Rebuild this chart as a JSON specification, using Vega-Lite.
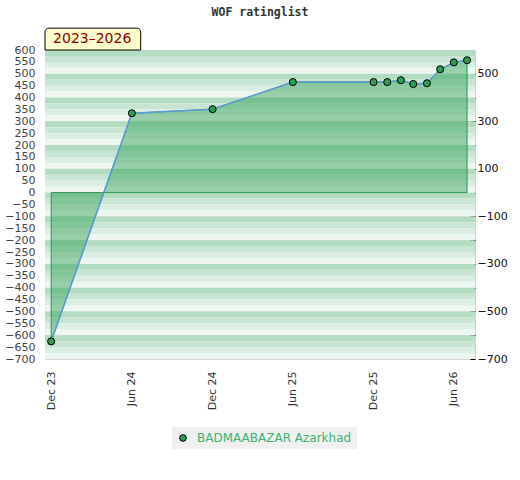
{
  "$schema": "https://vega.github.io/schema/vega-lite/v6.json",
  "width": 430,
  "height": 309,
  "autosize": "none",
  "padding": {"left": 45, "top": 50, "right": 45, "bottom": 121},
  "background": "white",
  "title": {
    "text": "WOF ratinglist",
    "font": "DejaVu Sans Mono",
    "fontSize": 11.5,
    "fontWeight": "bold",
    "color": "#333333",
    "anchor": "middle",
    "frame": "group",
    "offset": 9
  },
  "datasets": {
    "ratings": [
      {"date": "2023-12-01", "rating": -626, "name": "BADMAABAZAR Azarkhad"},
      {"date": "2024-06-01", "rating": 334, "name": "BADMAABAZAR Azarkhad"},
      {"date": "2024-12-01", "rating": 351, "name": "BADMAABAZAR Azarkhad"},
      {"date": "2025-06-01", "rating": 465, "name": "BADMAABAZAR Azarkhad"},
      {"date": "2025-12-01", "rating": 465, "name": "BADMAABAZAR Azarkhad"},
      {"date": "2026-01-01", "rating": 465, "name": "BADMAABAZAR Azarkhad"},
      {"date": "2026-02-01", "rating": 473, "name": "BADMAABAZAR Azarkhad"},
      {"date": "2026-03-01", "rating": 457, "name": "BADMAABAZAR Azarkhad"},
      {"date": "2026-04-01", "rating": 460, "name": "BADMAABAZAR Azarkhad"},
      {"date": "2026-05-01", "rating": 519, "name": "BADMAABAZAR Azarkhad"},
      {"date": "2026-06-01", "rating": 548, "name": "BADMAABAZAR Azarkhad"},
      {"date": "2026-07-01", "rating": 557, "name": "BADMAABAZAR Azarkhad"}
    ],
    "bands": [
      {"lo": 575, "hi": 600, "shade": "a"}, {"lo": 550, "hi": 575, "shade": "b"}, {"lo": 525, "hi": 550, "shade": "c"}, {"lo": 500, "hi": 525, "shade": "d"},
      {"lo": 475, "hi": 500, "shade": "a"}, {"lo": 450, "hi": 475, "shade": "b"}, {"lo": 425, "hi": 450, "shade": "c"}, {"lo": 400, "hi": 425, "shade": "d"},
      {"lo": 375, "hi": 400, "shade": "a"}, {"lo": 350, "hi": 375, "shade": "b"}, {"lo": 325, "hi": 350, "shade": "c"}, {"lo": 300, "hi": 325, "shade": "d"},
      {"lo": 275, "hi": 300, "shade": "a"}, {"lo": 250, "hi": 275, "shade": "b"}, {"lo": 225, "hi": 250, "shade": "c"}, {"lo": 200, "hi": 225, "shade": "d"},
      {"lo": 175, "hi": 200, "shade": "a"}, {"lo": 150, "hi": 175, "shade": "b"}, {"lo": 125, "hi": 150, "shade": "c"}, {"lo": 100, "hi": 125, "shade": "d"},
      {"lo": 75, "hi": 100, "shade": "a"}, {"lo": 50, "hi": 75, "shade": "b"}, {"lo": 25, "hi": 50, "shade": "c"}, {"lo": 0, "hi": 25, "shade": "d"},
      {"lo": -25, "hi": 0, "shade": "a"}, {"lo": -50, "hi": -25, "shade": "b"}, {"lo": -75, "hi": -50, "shade": "c"}, {"lo": -100, "hi": -75, "shade": "d"},
      {"lo": -125, "hi": -100, "shade": "a"}, {"lo": -150, "hi": -125, "shade": "b"}, {"lo": -175, "hi": -150, "shade": "c"}, {"lo": -200, "hi": -175, "shade": "d"},
      {"lo": -225, "hi": -200, "shade": "a"}, {"lo": -250, "hi": -225, "shade": "b"}, {"lo": -275, "hi": -250, "shade": "c"}, {"lo": -300, "hi": -275, "shade": "d"},
      {"lo": -325, "hi": -300, "shade": "a"}, {"lo": -350, "hi": -325, "shade": "b"}, {"lo": -375, "hi": -350, "shade": "c"}, {"lo": -400, "hi": -375, "shade": "d"},
      {"lo": -425, "hi": -400, "shade": "a"}, {"lo": -450, "hi": -425, "shade": "b"}, {"lo": -475, "hi": -450, "shade": "c"}, {"lo": -500, "hi": -475, "shade": "d"},
      {"lo": -525, "hi": -500, "shade": "a"}, {"lo": -550, "hi": -525, "shade": "b"}, {"lo": -575, "hi": -550, "shade": "c"}, {"lo": -600, "hi": -575, "shade": "d"},
      {"lo": -625, "hi": -600, "shade": "a"}, {"lo": -650, "hi": -625, "shade": "b"}, {"lo": -675, "hi": -650, "shade": "c"}, {"lo": -700, "hi": -675, "shade": "d"}
    ]
  },
  "resolve": {"scale": {"color": "independent"}, "axis": {"y": "independent"}},
  "layer": [
    {
      "data": {"name": "bands"},
      "mark": {"type": "rect", "strokeWidth": 0},
      "encoding": {
        "y": {
          "field": "lo",
          "type": "quantitative",
          "scale": {"domain": [-700, 600], "nice": false, "zero": false},
          "axis": {
            "orient": "left",
            "title": null,
            "values": [600, 550, 500, 450, 400, 350, 300, 250, 200, 150, 100, 50, 0, -50, -100, -150, -200, -250, -300, -350, -400, -450, -500, -550, -600, -650, -700],
            "ticks": false,
            "domain": false,
            "grid": false,
            "labelFont": "DejaVu Sans",
            "labelFontSize": 11,
            "labelColor": "#444444",
            "labelPadding": 10
          }
        },
        "y2": {"field": "hi"},
        "color": {
          "field": "shade",
          "type": "nominal",
          "scale": {"domain": ["a", "b", "c", "d"], "range": ["#b3dcc2", "#c7e5d2", "#dbeee3", "#eef6f1"]},
          "legend": null
        }
      }
    },
    {
      "data": {"name": "ratings"},
      "mark": {"type": "area", "fill": "#2e9e55", "fillOpacity": 0.45, "stroke": "#2e9650", "strokeWidth": 1},
      "encoding": {
        "x": {
          "field": "date",
          "type": "temporal",
          "scale": {"type": "utc", "domain": [1700179200000, 1784419200000]},
          "axis": {
            "title": null,
            "values": [1701388800000, 1717200000000, 1733011200000, 1748736000000, 1764547200000, 1780272000000],
            "labelExpr": "utcFormat(datum.value, '%b %y')",
            "labelAngle": -90,
            "labelOverlap": false,
            "ticks": false,
            "domain": false,
            "grid": false,
            "labelFont": "DejaVu Sans",
            "labelFontSize": 11,
            "labelColor": "#333333",
            "labelPadding": 12
          }
        },
        "y": {"field": "rating", "type": "quantitative", "scale": {"domain": [-700, 600], "nice": false, "zero": false}, "axis": null},
        "y2": {"datum": 0}
      }
    },
    {
      "data": {"name": "ratings"},
      "mark": {"type": "line", "color": "#5b9bd5", "strokeWidth": 1.5},
      "encoding": {
        "x": {"field": "date", "type": "temporal", "scale": {"type": "utc", "domain": [1700179200000, 1784419200000]}},
        "y": {"field": "rating", "type": "quantitative", "scale": {"domain": [-700, 600], "nice": false, "zero": false}, "axis": null}
      }
    },
    {
      "data": {"name": "ratings"},
      "mark": {"type": "point", "filled": true, "size": 50, "stroke": "black", "strokeWidth": 1, "opacity": 1},
      "encoding": {
        "x": {"field": "date", "type": "temporal", "scale": {"type": "utc", "domain": [1700179200000, 1784419200000]}},
        "y": {
          "field": "rating",
          "type": "quantitative",
          "scale": {"domain": [-700, 600], "nice": false, "zero": false},
          "axis": {
            "orient": "right",
            "title": null,
            "values": [500, 400, 300, 200, 100, 0, -100, -200, -300, -400, -500, -600, -700],
            "labelExpr": "(datum.value + 700) % 200 == 0 ? datum.label : ''",
            "ticks": true,
            "tickSize": -5,
            "tickColor": "black",
            "domain": false,
            "grid": true,
            "gridColor": "#d6d6d6",
            "gridOpacity": 1,
            "labelFont": "DejaVu Sans",
            "labelFontSize": 11,
            "labelColor": "#111111",
            "labelPadding": 7
          }
        },
        "color": {
          "field": "name",
          "type": "nominal",
          "scale": {"range": ["#2e9e55"]},
          "legend": {
            "title": null,
            "orient": "none",
            "legendX": 127,
            "legendY": 377,
            "fillColor": "#f0f0f0",
            "padding": 5,
            "symbolType": "circle",
            "symbolSize": 45,
            "symbolStrokeColor": "black",
            "symbolStrokeWidth": 1,
            "labelFont": "DejaVu Sans",
            "labelFontSize": 12,
            "labelColor": "#3cb371",
            "labelOffset": 8
          }
        }
      }
    },
    {
      "data": {"values": [{"label": "2023–2026", "start": 1700179200000, "end": 1718928000000, "lo": 600, "hi": 692}]},
      "mark": {"type": "rect", "fill": "#ffffcc", "stroke": "black", "strokeWidth": 1, "cornerRadiusTopLeft": 4, "cornerRadiusTopRight": 4},
      "encoding": {
        "x": {"field": "start", "type": "temporal", "scale": {"type": "utc", "domain": [1700179200000, 1784419200000]}},
        "x2": {"field": "end"},
        "y": {"field": "lo", "type": "quantitative", "scale": {"domain": [-700, 600], "nice": false, "zero": false}, "axis": null},
        "y2": {"field": "hi"}
      }
    },
    {
      "data": {"values": [{"label": "2023–2026", "mid": 1709424000000, "pos": 648}]},
      "mark": {"type": "text", "font": "DejaVu Sans", "fontSize": 14, "color": "#8b0000", "align": "center", "baseline": "middle"},
      "encoding": {
        "x": {"field": "mid", "type": "temporal", "scale": {"type": "utc", "domain": [1700179200000, 1784419200000]}},
        "y": {"field": "pos", "type": "quantitative", "scale": {"domain": [-700, 600], "nice": false, "zero": false}, "axis": null},
        "text": {"field": "label"}
      }
    }
  ],
  "config": {
    "view": {"stroke": "#d4d4d4", "strokeWidth": 1}
  }
}
